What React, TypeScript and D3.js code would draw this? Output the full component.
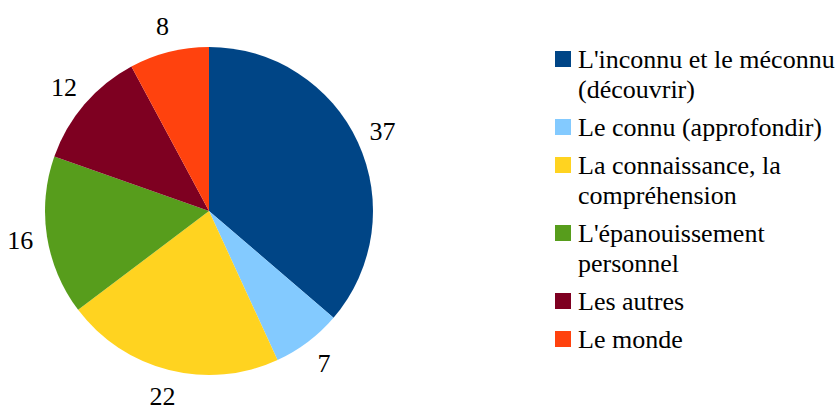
import * as React from 'react';
import * as d3 from 'd3';

const labels = [
  ["L'inconnu et le méconnu", '(découvrir)'],
  ['Le connu (approfondir)'],
  ['La connaissance, la', 'compréhension'],
  ["L'épanouissement", 'personnel'],
  ['Les autres'],
  ['Le monde'],
];
const values = [37, 7, 22, 16, 12, 8];
const colours = ['#004586', '#83caff', '#ffd320', '#579d1c', '#7e0021', '#ff420e'];

const width = 839;
const height = 406;
const cx = 209;
const cy = 211;
const radius = 164;
const labelRadius = 191;

export default function App() {
  const pie = d3.pie<number>().sort(null).value(d => d);
  const arcs = pie(values);
  const arc = d3.arc<d3.PieArcDatum<number>>().innerRadius(0).outerRadius(radius);
  const labelArc = d3.arc<d3.PieArcDatum<number>>().innerRadius(labelRadius).outerRadius(labelRadius);

  // legend layout
  const lineH = 30;
  const itemGap = 8;
  let y = 59;
  const legendItems = labels.map((lines, i) => {
    const top = y;
    y += lines.length * lineH + itemGap;
    return { lines, top, colour: colours[i] };
  });

  const texts: { x: number; y: number; s: string; anchor: string }[] = [];
  arcs.forEach(a => {
    const [x, yy] = labelArc.centroid(a);
    texts.push({ x: cx + x, y: cy + yy + 9, s: String(a.data), anchor: 'middle' });
  });
  legendItems.forEach(it => {
    it.lines.forEach((l, j) => {
      texts.push({ x: 578, y: it.top + j * lineH + 9, s: l, anchor: 'start' });
    });
  });

  return (
    <svg width={width} height={height} style={{ position: 'absolute', left: 0, top: 0 }}>
      <g transform={`translate(${cx},${cy})`}>
        {arcs.map((a, i) => (
          <path key={i} d={arc(a) as string} fill={colours[i]} />
        ))}
      </g>
      {legendItems.map((it, i) => (
        <rect key={i} x={555} y={it.top - 8} width={16} height={16} fill={it.colour} />
      ))}
      {texts.map((t, i) => (
        <text key={i} x={t.x} y={t.y} textAnchor={t.anchor} fontFamily="Liberation Serif" fontSize={26}>
          {t.s}
        </text>
      ))}
    </svg>
  );
}
